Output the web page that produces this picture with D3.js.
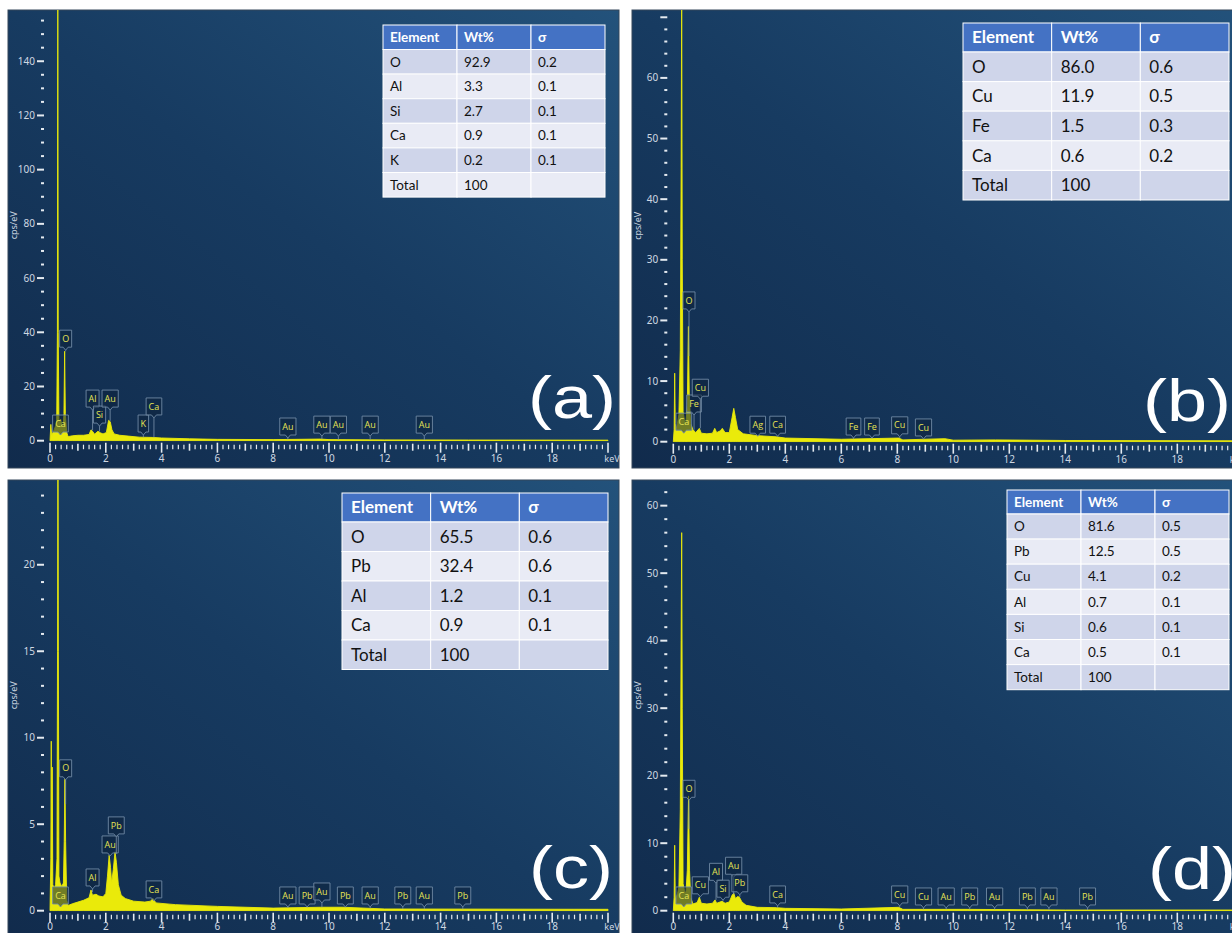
<!DOCTYPE html>
<html>
<head>
<meta charset="utf-8">
<script src="https://cdn.jsdelivr.net/npm/d3@7"></script>
<style>
	body { margin: 0; background: #fff; }
	svg { display: block; }
</style>
</head>
<body>
<svg id="chart" width="1232" height="933"></svg>
<script>
"use strict";

// Spectra, [keV, cps/eV]
var specA = [[0,0],[0.03,6],[0.06,2],[0.1,3],[0.15,4],[0.2,5.5],[0.24,7],[0.265,40],[0.28,175],[0.295,40],[0.32,7],[0.38,8],[0.42,6],[0.47,5],[0.5,10],[0.525,33],[0.55,10],[0.6,3],[0.65,1.5],[0.8,1.8],[1.0,2],[1.2,2],[1.4,2.3],[1.47,4],[1.52,3.5],[1.6,2.4],[1.72,3.5],[1.78,3],[1.9,2.5],[2.02,3],[2.1,7.5],[2.16,7],[2.22,4],[2.3,2.5],[2.5,2],[2.8,1.7],[3.2,1.3],[3.69,1.2],[4,1],[5,0.7],[6,0.5],[8,0.4],[9.7,0.6],[10,0.4],[12,0.3],[15,0.25],[20,0.2]];
var specB = [[0,0],[0.03,2],[0.05,11.3],[0.07,3],[0.1,2],[0.15,3],[0.2,4.5],[0.25,15],[0.28,45],[0.3,75],[0.32,30],[0.35,5],[0.4,3.5],[0.45,3],[0.5,6],[0.54,19],[0.57,8],[0.62,3],[0.7,2],[0.8,1.5],[0.93,2.2],[1.0,1.4],[1.2,1.3],[1.4,1.4],[1.48,2.2],[1.55,1.5],[1.68,1.8],[1.75,2.2],[1.85,1.5],[2.0,1.5],[2.1,4],[2.16,5.5],[2.22,4],[2.3,2],[2.5,1.3],[3,1],[3.69,0.8],[4,0.6],[6,0.4],[8.05,0.6],[8.2,0.3],[9.7,0.5],[10,0.25],[11.5,0.3],[14,0.2],[20,0.15]];
var specC = [[0,0],[0.03,3],[0.045,9.8],[0.06,2],[0.08,8.3],[0.1,1.5],[0.15,1.3],[0.2,1.5],[0.25,3],[0.27,15],[0.285,30],[0.3,15],[0.32,2],[0.36,1.6],[0.42,1.4],[0.48,1.6],[0.51,4],[0.535,7.6],[0.56,4],[0.6,0.6],[0.65,0.3],[0.8,0.4],[1.0,0.5],[1.2,0.6],[1.4,0.75],[1.47,1.2],[1.52,0.9],[1.65,0.95],[1.75,0.85],[1.9,0.8],[2.0,1.0],[2.06,2],[2.12,3.2],[2.17,2.5],[2.21,1.6],[2.27,2.4],[2.33,3.4],[2.38,2.8],[2.45,1.5],[2.55,0.9],[2.7,0.7],[3.0,0.55],[3.4,0.5],[3.6,0.55],[3.69,0.7],[3.8,0.45],[4.5,0.35],[6,0.25],[8,0.15],[9.7,0.2],[10.5,0.2],[12,0.1],[20,0.08]];
var specD = [[0,0],[0.03,2],[0.05,9.7],[0.07,2],[0.1,2],[0.15,2.5],[0.2,3.5],[0.25,15],[0.28,40],[0.3,56],[0.32,30],[0.35,4],[0.4,3],[0.45,2.5],[0.5,6],[0.545,17],[0.58,6],[0.62,2],[0.7,1],[0.85,1.2],[0.93,2],[1.0,1.1],[1.2,1],[1.4,1.1],[1.49,1.6],[1.55,1.1],[1.74,1.4],[1.85,1.1],[2.0,1.3],[2.1,2.3],[2.16,2.6],[2.22,1.8],[2.3,2.1],[2.36,2.0],[2.45,1.3],[2.6,0.8],[3,0.5],[3.69,0.45],[4,0.35],[6,0.25],[8.05,0.5],[8.2,0.2],[9.7,0.2],[10.5,0.2],[14,0.1],[20,0.1]];

// Peak markers: [element, keV, cps level of the marker box]
var labelsA = [["Ca",0.34,3.2],["O",0.525,34.5],["Al",1.49,12.4],["Si",1.74,6.5],["Au",2.12,12.4],["K",3.31,3.2],["Ca",3.69,9.5],["Au",8.49,2.1],["Au",9.71,2.8],["Au",10.3,2.8],["Au",11.44,2.8],["Au",13.38,2.8]];
var labelsB = [["Ca",0.34,1.9],["O",0.525,21.9],["Fe",0.705,4.9],["Cu",0.93,7.5],["Ag",2.98,1.4],["Ca",3.69,1.4],["Fe",6.40,1.1],["Fe",7.06,1.1],["Cu",8.05,1.3],["Cu",8.9,0.95]];
var labelsC = [["Ca",0.34,0.39],["O",0.525,7.74],["Al",1.49,1.43],["Au",2.12,3.34],["Pb",2.34,4.44],["Ca",3.69,0.74],["Au",8.49,0.39],["Pb",9.18,0.39],["Au",9.71,0.62],["Pb",10.55,0.39],["Au",11.44,0.39],["Pb",12.61,0.39],["Au",13.38,0.39],["Pb",14.76,0.39]];
var labelsD = [["Ca",0.34,1.0],["O",0.525,16.8],["Cu",0.93,2.5],["Al",1.49,4.5],["Si",1.74,2.0],["Au",2.12,5.4],["Pb",2.34,2.8],["Ca",3.69,1.15],["Cu",8.05,1.15],["Cu",8.9,0.85],["Au",9.71,0.85],["Pb",10.55,0.85],["Au",11.44,0.85],["Pb",12.61,0.85],["Au",13.38,0.85],["Pb",14.76,0.85]];

// Composition tables
var tableHead = ["Element", "Wt%", "σ"];
var tableA = [["O","92.9","0.2"],["Al","3.3","0.1"],["Si","2.7","0.1"],["Ca","0.9","0.1"],["K","0.2","0.1"],["Total","100",""]];
var tableB = [["O","86.0","0.6"],["Cu","11.9","0.5"],["Fe","1.5","0.3"],["Ca","0.6","0.2"],["Total","100",""]];
var tableC = [["O","65.5","0.6"],["Pb","32.4","0.6"],["Al","1.2","0.1"],["Ca","0.9","0.1"],["Total","100",""]];
var tableD = [["O","81.6","0.5"],["Pb","12.5","0.5"],["Cu","4.1","0.2"],["Al","0.7","0.1"],["Si","0.6","0.1"],["Ca","0.5","0.1"],["Total","100",""]];

var xTicks = [0, 2, 4, 6, 8, 10, 12, 14, 16, 18];

// Layout of the four panels
var panels = [
	{ tag: "(a)", spec: specA, labels: labelsA, table: tableA,
		left: 8, top: 10, right: 619, bottom: 468, x0: 50, x20: 608, y0: 440.7, yMax: 158.9, major: 20, minor: 5, xLab: 18,
		tbl: { x: 383, y: 25, w: 222, hh: 24.5, rh: 24.6, fs: 13.5, pad: 7 }, tagX: 616, tagY: 418 },
	{ tag: "(b)", spec: specB, labels: labelsB, table: tableB,
		left: 632, top: 10, right: 1245, bottom: 468, x0: 673.3, x20: 1233.3, y0: 441.7, yMax: 71.2, major: 10, minor: 2, xLab: 18,
		tbl: { x: 963, y: 23, w: 266, hh: 29, rh: 29.6, fs: 17, pad: 9 }, tagX: 1231, tagY: 421 },
	{ tag: "(c)", spec: specC, labels: labelsC, table: tableC,
		left: 8, top: 480, right: 619, bottom: 945, x0: 50, x20: 608, y0: 910.7, yMax: 24.9, major: 5, minor: 1, xLab: 16,
		tbl: { x: 342, y: 493, w: 266, hh: 29, rh: 29.5, fs: 17, pad: 9 }, tagX: 613, tagY: 888 },
	{ tag: "(d)", spec: specD, labels: labelsD, table: tableD,
		left: 632, top: 480, right: 1245, bottom: 945, x0: 673.3, x20: 1233.3, y0: 910.7, yMax: 63.8, major: 10, minor: 2, xLab: 16,
		tbl: { x: 1007, y: 490, w: 222, hh: 24, rh: 25.1, fs: 13.5, pad: 7 }, tagX: 1236, tagY: 889 }
];

var svg = d3.select("#chart");
var defs = svg.append("defs");

var grad = defs.append("linearGradient")
	.attr("id", "bg")
	.attr("x1", 0).attr("y1", 1)
	.attr("x2", 1).attr("y2", 0);
grad.append("stop").attr("offset", 0).attr("stop-color", "#112b4c");
grad.append("stop").attr("offset", 0.5).attr("stop-color", "#173b61");
grad.append("stop").attr("offset", 1).attr("stop-color", "#23527b");

var axisColor = "#cfd8e2";
var specColor = "#eaea0a";
var markColor = "#e6e455";

panels.forEach(function(p, i) {
	var g = svg.append("g");

	var x = d3.scaleLinear().domain([0, 20]).range([p.x0, p.x20]);
	var y = d3.scaleLinear().domain([0, p.yMax]).range([p.y0, p.top]);

	// background
	g.append("rect")
		.attr("x", p.left).attr("y", p.top)
		.attr("width", p.right - p.left).attr("height", p.bottom - p.top)
		.attr("fill", "url(#bg)")
		.attr("stroke", "#35475b")
		.attr("stroke-width", 1);

	// clip for the spectrum
	defs.append("clipPath").attr("id", "clip" + i)
		.append("rect")
		.attr("x", p.left).attr("y", p.top)
		.attr("width", p.right - p.left).attr("height", p.y0 - p.top + 0.5);

	// y axis ticks
	var yMinor = d3.range(0, p.yMax, p.minor).filter(function(v) {
		return Math.abs(v / p.major - Math.round(v / p.major)) > 1e-6;
	});
	var yMajor = d3.range(0, p.yMax, p.major);

	g.selectAll(".ymin")
		.data(yMinor)
		.enter()
		.append("line")
		.attr("x1", p.x0 - 9).attr("x2", p.x0 - 6)
		.attr("y1", function(d) { return y(d); })
		.attr("y2", function(d) { return y(d); })
		.attr("stroke", "#e4eaf0").attr("stroke-width", 2);

	g.selectAll(".ymaj")
		.data(yMajor)
		.enter()
		.append("line")
		.attr("x1", p.x0 - 13).attr("x2", p.x0 - 6)
		.attr("y1", function(d) { return y(d); })
		.attr("y2", function(d) { return y(d); })
		.attr("stroke", "#e4eaf0").attr("stroke-width", 2);

	g.selectAll(".ylab")
		.data(yMajor.filter(function(d) { return y(d) - p.top > 12; }))
		.enter()
		.append("text")
		.attr("x", p.x0 - 15)
		.attr("y", function(d) { return y(d); })
		.attr("dy", "0.35em")
		.attr("text-anchor", "end")
		.attr("font-family", "'Noto Sans', sans-serif")
		.attr("font-size", 10)
		.attr("fill", axisColor)
		.text(function(d) { return d; });

	g.append("text")
		.attr("transform", "translate(" + (p.left + 9) + "," + ((p.top + p.y0) / 2) + ") rotate(-90)")
		.attr("text-anchor", "middle")
		.attr("font-family", "'Noto Sans', sans-serif")
		.attr("font-size", 9)
		.attr("fill", axisColor)
		.text("cps/eV");

	// x axis ticks every 0.2 keV
	var xt = d3.range(0, 101).map(function(k) { return k / 5; });
	g.selectAll(".xt")
		.data(xt)
		.enter()
		.append("line")
		.attr("x1", function(d) { return x(d); })
		.attr("x2", function(d) { return x(d); })
		.attr("y1", function(d, k) { return p.y0 + (k % 10 == 0 ? 2 : k % 5 == 0 ? 3 : 4); })
		.attr("y2", function(d, k) { return p.y0 + (k % 10 == 0 ? 12 : k % 5 == 0 ? 10 : 8.5); })
		.attr("stroke", "#e4eaf0")
		.attr("stroke-width", function(d, k) { return k % 5 == 0 ? 1.6 : 1.2; });

	g.selectAll(".xlab")
		.data(xTicks)
		.enter()
		.append("text")
		.attr("x", function(d) { return x(d); })
		.attr("y", p.y0 + p.xLab)
		.attr("dy", "0.35em")
		.attr("text-anchor", "middle")
		.attr("font-family", "'Noto Sans', sans-serif")
		.attr("font-size", 10)
		.attr("fill", axisColor)
		.text(function(d) { return d; });

	g.append("text")
		.attr("x", x(20) + 4)
		.attr("y", p.y0 + p.xLab)
		.attr("dy", "0.35em")
		.attr("text-anchor", "middle")
		.attr("font-family", "'Noto Sans', sans-serif")
		.attr("font-size", 9)
		.attr("fill", axisColor)
		.text("keV");

	// spectrum
	var area = d3.area()
		.x(function(d) { return x(d[0]); })
		.y0(p.y0)
		.y1(function(d) { return y(d[1]); });

	g.append("path")
		.datum(p.spec)
		.attr("clip-path", "url(#clip" + i + ")")
		.attr("d", area)
		.attr("fill", specColor)
		.attr("stroke", specColor)
		.attr("stroke-width", 0.9)
		.attr("stroke-linejoin", "round");

	// peak markers
	var bis = d3.bisector(function(d) { return d[0]; }).left;
	function specAt(e) {
		var j = bis(p.spec, e);
		if (j <= 0) return p.spec[0][1];
		var a = p.spec[j - 1], b = p.spec[j];
		return a[1] + (b[1] - a[1]) * (e - a[0]) / (b[0] - a[0]);
	}

	var marks = g.selectAll(".mark")
		.data(p.labels)
		.enter()
		.append("g");

	marks.each(function(d) {
		var m = d3.select(this);
		var cx = x(d[1]) + 1;
		var by = y(d[2]);
		var sy = Math.min(y(specAt(d[1])), p.y0);
		var t = m.append("text")
			.attr("x", cx)
			.attr("y", by - 8.5)
			.attr("dy", "0.35em")
			.attr("text-anchor", "middle")
			.attr("font-family", "'Open Sans', sans-serif")
			.attr("font-size", 9)
			.attr("fill", markColor)
			.text(d[0]);
		var w = t.node().getComputedTextLength() + 5;
		if (sy > by + 3) {
			m.insert("line", "text")
				.attr("x1", cx).attr("x2", cx)
				.attr("y1", by + 3).attr("y2", sy)
				.attr("stroke", "#7c93ab")
				.attr("stroke-width", 0.8);
		}
		m.insert("path", "text")
			.attr("d", "M" + (cx - w / 2) + "," + (by - 17) +
				"H" + (cx + w / 2) + "V" + by +
				"H" + (cx + 2.5) + "L" + cx + "," + (by + 3) + "L" + (cx - 2.5) + "," + by +
				"H" + (cx - w / 2) + "Z")
			.attr("fill", "rgba(12,34,60,0.55)")
			.attr("stroke", "#6f89a4")
			.attr("stroke-width", 0.9);
	});

	// big panel tag
	g.append("text")
		.attr("transform", "translate(" + p.tagX + "," + p.tagY + ") scale(1.2,1)")
		.attr("text-anchor", "end")
		.attr("font-family", "'Liberation Sans', Arial, sans-serif")
		.attr("font-size", 60)
		.attr("fill", "#ffffff")
		.text(p.tag);

	// composition table
	var tb = p.tbl;
	var cw = tb.w / 3;
	var tg = g.append("g");
	var rows = [tableHead].concat(p.table);
	rows.forEach(function(r, ri) {
		var ry = ri == 0 ? tb.y : tb.y + tb.hh + (ri - 1) * tb.rh;
		var rh = ri == 0 ? tb.hh : tb.rh;
		var fill = ri == 0 ? "#4472c4" : (ri % 2 == 1 ? "#cfd5ea" : "#e9ebf5");
		r.forEach(function(c, ci) {
			tg.append("rect")
				.attr("x", tb.x + ci * cw).attr("y", ry)
				.attr("width", cw).attr("height", rh)
				.attr("fill", fill)
				.attr("stroke", "#ffffff")
				.attr("stroke-width", 1);
			tg.append("text")
				.attr("x", tb.x + ci * cw + tb.pad)
				.attr("y", ry + rh / 2)
				.attr("dy", "0.35em")
				.attr("font-family", "Lato, 'Open Sans', sans-serif")
				.attr("font-size", tb.fs)
				.attr("font-weight", ri == 0 ? "bold" : "normal")
				.attr("fill", ri == 0 ? "#ffffff" : "#111111")
				.text(c);
		});
	});
});
</script>
</body>
</html>
